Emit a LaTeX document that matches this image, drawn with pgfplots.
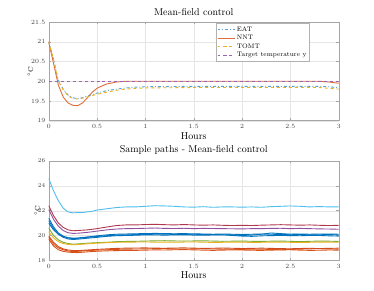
\documentclass[border=0pt]{standalone}
\usepackage{pgfplots}
\pgfplotsset{compat=1.18}
\definecolor{mblue}{HTML}{0072BD}
\definecolor{morange}{HTML}{D95319}
\definecolor{myellow}{HTML}{EDB120}
\definecolor{mpurple}{HTML}{7E2F8E}
\definecolor{mgreen}{HTML}{77AC30}
\definecolor{mlblue}{HTML}{4DBEEE}
\definecolor{mred}{HTML}{A2142F}
\pgfplotsset{
  mstyle/.style={
    scale only axis, width=290bp,
    xmin=0, xmax=3,
    xtick={0,0.5,...,3},
    xticklabels={0,0.5,1,1.5,2,2.5,3},
    grid=major,
    major grid style={gray!20, line width=0.3pt},
    axis line style={gray!70, line width=0.4pt},
    tick style={gray!70, line width=0.4pt},
    tick align=inside,
    major tick length=2.5pt,
    ticklabel style={font=\fontsize{6.4}{7}\selectfont, text=black!75},
    title style={font=\fontsize{10}{12}\selectfont, yshift=-3pt},
    xlabel style={font=\fontsize{10}{12}\selectfont, yshift=3pt},
    ylabel style={font=\fontsize{7}{8}\selectfont, yshift=-9pt},
    xlabel={Hours}, ylabel={$^\circ$C},
    every axis plot/.append style={line width=0.9pt},
  }
}
\begin{document}
\begin{tikzpicture}
\useasboundingbox (0,0) rectangle (374bp,291bp);
\begin{axis}[mstyle,
  at={(48.7bp,170.3bp)}, anchor=south west, height=98.7bp,
  ymin=19, ymax=21.5, ytick={19,19.5,...,21.5},
  yticklabels={19,19.5,20,20.5,21,21.5},
  title={Mean-field control},
  legend style={at={(0.9,0.985)}, anchor=north east, font=\fontsize{6.5}{7}\selectfont,
    draw=gray!60, inner sep=1pt, row sep=-1.5pt, cells={anchor=west}},
  legend cell align=left,
]
\addplot[mblue!65, dash dot] coordinates {(0,21.0) (0.05,20.55) (0.1,20.02) (0.15,19.8) (0.2,19.65) (0.25,19.58) (0.3,19.56) (0.35,19.58) (0.4,19.62) (0.5,19.7) (0.6,19.76) (0.7,19.8) (0.8,19.83) (0.9,19.85) (1.0,19.86) (1.5,19.87) (2.0,19.87) (2.5,19.87) (2.8,19.87) (2.9,19.86) (3.0,19.83)};
\addlegendentry{EAT}
\addplot[morange!85] coordinates {(0,21.0) (0.05,20.45) (0.1,19.9) (0.15,19.6) (0.2,19.45) (0.25,19.39) (0.3,19.38) (0.35,19.45) (0.4,19.58) (0.45,19.72) (0.5,19.82) (0.55,19.88) (0.6,19.93) (0.7,19.98) (0.8,20.0) (1.0,20.0) (2.0,20.0) (2.8,20.0) (2.9,19.98) (3.0,19.95)};
\addlegendentry{NNT}
\addplot[myellow, dashed] coordinates {(0,21.0) (0.05,20.55) (0.1,20.0) (0.15,19.78) (0.2,19.63) (0.25,19.56) (0.3,19.55) (0.35,19.57) (0.4,19.6) (0.5,19.67) (0.6,19.72) (0.7,19.77) (0.8,19.8) (0.9,19.82) (1.0,19.83) (1.5,19.84) (2.0,19.84) (2.5,19.84) (2.8,19.84) (2.9,19.82) (3.0,19.8)};
\addlegendentry{TOMT}
\addplot[mpurple!75, dashed] coordinates {(0,20) (3,20)};
\addlegendentry{Target temperature y}
\end{axis}
\begin{axis}[mstyle,
  at={(48.7bp,30.7bp)}, anchor=south west, height=99.3bp,
  ymin=18, ymax=26, ytick={18,20,...,26},
  title={Sample paths - Mean-field control},
]
% light blue
\addplot[mlblue] coordinates {(0,24.6) (0.05,23.6) (0.1,22.8) (0.15,22.2) (0.2,21.9) (0.25,21.82) (0.3,21.85) (0.35,21.85) (0.4,21.9) (0.45,21.95) (0.5,22.05) (0.55,22.1) (0.6,22.15) (0.7,22.25) (0.8,22.3) (0.9,22.3) (1.0,22.35) (1.1,22.4) (1.2,22.38) (1.3,22.35) (1.4,22.3) (1.5,22.28) (1.6,22.32) (1.7,22.27) (1.8,22.3) (1.9,22.3) (2.0,22.28) (2.1,22.3) (2.2,22.27) (2.3,22.32) (2.4,22.35) (2.5,22.38) (2.6,22.35) (2.7,22.3) (2.8,22.33) (2.9,22.3) (3.0,22.3)};
% dark red
\addplot[mred!85] coordinates {(0,22.4) (0.05,21.6) (0.1,21.0) (0.15,20.65) (0.2,20.45) (0.25,20.38) (0.3,20.4) (0.4,20.45) (0.5,20.55) (0.6,20.68) (0.7,20.8) (0.8,20.85) (0.9,20.85) (1.0,20.88) (1.1,20.9) (1.2,20.87) (1.3,20.85) (1.4,20.88) (1.5,20.85) (1.6,20.83) (1.7,20.85) (1.8,20.82) (1.9,20.8) (2.0,20.82) (2.1,20.8) (2.2,20.83) (2.3,20.85) (2.4,20.87) (2.5,20.85) (2.6,20.83) (2.7,20.85) (2.8,20.82) (2.9,20.8) (3.0,20.82)};
% purple
\addplot[mpurple!85] coordinates {(0,22.1) (0.05,21.3) (0.1,20.75) (0.15,20.4) (0.2,20.22) (0.25,20.17) (0.3,20.18) (0.4,20.25) (0.5,20.35) (0.6,20.45) (0.7,20.52) (0.8,20.55) (0.9,20.56) (1.0,20.58) (1.1,20.6) (1.2,20.57) (1.3,20.56) (1.4,20.58) (1.5,20.55) (1.6,20.57) (1.7,20.56) (1.8,20.55) (1.9,20.54) (2.0,20.53) (2.1,20.55) (2.2,20.55) (2.3,20.57) (2.4,20.58) (2.5,20.55) (2.6,20.57) (2.7,20.55) (2.8,20.53) (2.9,20.52) (3.0,20.5)};
% blue 1
\addplot[mblue] coordinates {(0,21.4) (0.05,20.7) (0.1,20.2) (0.15,19.95) (0.2,19.8) (0.25,19.75) (0.3,19.77) (0.4,19.85) (0.5,19.92) (0.6,19.98) (0.7,20.03) (0.8,20.05) (0.9,20.07) (1.0,20.08) (1.1,20.1) (1.2,20.1) (1.3,20.09) (1.4,20.08) (1.5,20.1) (1.6,20.08) (1.7,20.07) (1.8,20.06) (1.9,20.05) (2.0,20.0) (2.1,20.03) (2.2,20.1) (2.3,20.2) (2.4,20.15) (2.5,20.1) (2.6,20.08) (2.7,20.05) (2.8,20.06) (2.9,20.07) (3.0,20.05)};
% blue 2
\addplot[mblue] coordinates {(0,21.2) (0.05,20.55) (0.1,20.1) (0.15,19.85) (0.2,19.72) (0.25,19.68) (0.3,19.7) (0.4,19.78) (0.5,19.85) (0.6,19.93) (0.7,19.98) (0.8,20.0) (0.9,20.02) (1.0,20.05) (1.1,20.04) (1.2,20.03) (1.3,20.04) (1.4,20.05) (1.5,20.03) (1.6,20.02) (1.7,20.04) (1.8,20.05) (1.9,20.0) (2.0,19.95) (2.1,19.93) (2.2,19.97) (2.3,19.99) (2.4,20.0) (2.5,19.99) (2.6,19.98) (2.7,20.0) (2.8,20.0) (2.9,19.97) (3.0,19.95)};
% blue 3
\addplot[mblue] coordinates {(0,21.0) (0.05,20.45) (0.1,20.1) (0.15,19.92) (0.2,19.82) (0.25,19.79) (0.3,19.8) (0.4,19.88) (0.5,19.97) (0.6,20.05) (0.7,20.1) (0.8,20.12) (0.9,20.14) (1.0,20.15) (1.1,20.17) (1.2,20.15) (1.3,20.14) (1.4,20.15) (1.5,20.13) (1.6,20.12) (1.7,20.1) (1.8,20.12) (1.9,20.1) (2.0,20.08) (2.1,20.1) (2.2,20.12) (2.3,20.1) (2.4,20.08) (2.5,20.1) (2.6,20.12) (2.7,20.1) (2.8,20.12) (2.9,20.12) (3.0,20.1)};
% green
\addplot[mgreen] coordinates {(0,20.6) (0.05,20.0) (0.1,19.65) (0.15,19.45) (0.2,19.35) (0.25,19.3) (0.3,19.32) (0.4,19.38) (0.5,19.42) (0.6,19.45) (0.7,19.5) (0.8,19.52) (0.9,19.53) (1.0,19.55) (1.1,19.57) (1.2,19.58) (1.3,19.56) (1.4,19.55) (1.5,19.56) (1.6,19.57) (1.7,19.55) (1.8,19.53) (1.9,19.54) (2.0,19.55) (2.1,19.53) (2.2,19.52) (2.3,19.54) (2.4,19.55) (2.5,19.53) (2.6,19.5) (2.7,19.53) (2.8,19.55) (2.9,19.54) (3.0,19.52)};
% yellow
\addplot[myellow] coordinates {(0,20.3) (0.05,19.8) (0.1,19.5) (0.15,19.35) (0.2,19.28) (0.25,19.25) (0.3,19.27) (0.4,19.33) (0.5,19.38) (0.6,19.42) (0.7,19.45) (0.8,19.46) (0.9,19.47) (1.0,19.48) (1.1,19.46) (1.2,19.47) (1.3,19.45) (1.4,19.47) (1.5,19.48) (1.6,19.46) (1.7,19.44) (1.8,19.45) (1.9,19.47) (2.0,19.46) (2.1,19.44) (2.2,19.45) (2.3,19.47) (2.4,19.46) (2.5,19.45) (2.6,19.43) (2.7,19.45) (2.8,19.47) (2.9,19.46) (3.0,19.45)};
% orange 1
\addplot[morange] coordinates {(0,19.85) (0.05,19.3) (0.1,19.0) (0.15,18.85) (0.2,18.75) (0.25,18.7) (0.3,18.72) (0.4,18.78) (0.5,18.82) (0.6,18.85) (0.7,18.88) (0.8,18.9) (0.9,18.91) (1.0,18.92) (1.1,18.94) (1.2,18.95) (1.3,18.92) (1.4,18.9) (1.5,18.92) (1.6,18.93) (1.7,18.91) (1.8,18.9) (1.9,18.89) (2.0,18.88) (2.1,18.9) (2.2,18.9) (2.3,18.87) (2.4,18.85) (2.5,18.88) (2.6,18.9) (2.7,18.92) (2.8,18.95) (2.9,18.96) (3.0,18.98)};
% orange 2
\addplot[morange] coordinates {(0,19.7) (0.05,19.15) (0.1,18.85) (0.15,18.72) (0.2,18.66) (0.25,18.63) (0.3,18.62) (0.4,18.68) (0.5,18.73) (0.6,18.76) (0.7,18.78) (0.8,18.8) (0.9,18.8) (1.0,18.82) (1.1,18.84) (1.2,18.83) (1.3,18.85) (1.4,18.86) (1.5,18.84) (1.6,18.82) (1.7,18.8) (1.8,18.82) (1.9,18.84) (2.0,18.83) (2.1,18.81) (2.2,18.8) (2.3,18.82) (2.4,18.84) (2.5,18.85) (2.6,18.82) (2.7,18.8) (2.8,18.81) (2.9,18.83) (3.0,18.82)};
% orange 3
\addplot[morange!85!mred] coordinates {(0,19.95) (0.05,19.45) (0.1,19.1) (0.15,18.92) (0.2,18.83) (0.25,18.79) (0.3,18.78) (0.4,18.83) (0.5,18.88) (0.6,18.92) (0.7,18.96) (0.8,18.98) (0.9,18.99) (1.0,19.0) (1.1,18.98) (1.2,18.97) (1.3,18.99) (1.4,19.0) (1.5,18.98) (1.6,18.96) (1.7,18.97) (1.8,18.99) (1.9,18.97) (2.0,18.95) (2.1,18.96) (2.2,18.98) (2.3,18.96) (2.4,18.94) (2.5,18.93) (2.6,18.95) (2.7,18.97) (2.8,18.94) (2.9,18.92) (3.0,18.9)};
\end{axis}
\end{tikzpicture}
\end{document}
